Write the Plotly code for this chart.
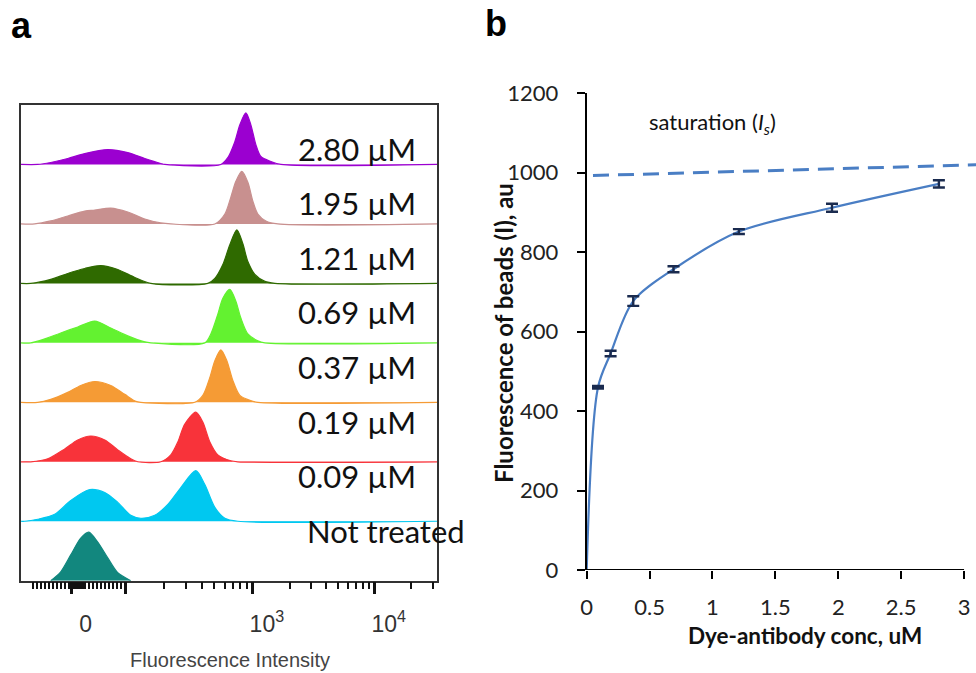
import math
import plotly.graph_objects as go

# ---------------- Panel a: flow cytometry histograms ----------------
# x in display channels (0..416 across the plot box), heights in counts (row height = 60)
row_labels = ["2.80 µM", "1.95 µM", "1.21 µM", "0.69 µM", "0.37 µM", "0.19 µM", "0.09 µM", "Not treated"]
row_colors = ["#9B00D0", "#C8908F", "#2F6A00", "#63F230", "#F59B35", "#F8333A", "#00C8F0", "#12877E"]

hist_x_280 = [17, 30, 47, 64, 87, 107, 124, 140, 144, 200, 207, 214, 219, 225, 230, 235, 240, 250, 260]
hist_y_280 = [0, 2, 6, 11, 15, 12, 6, 1, 0, 0, 7, 23, 40, 52, 40, 20, 8, 3, 0]
hist_x_195 = [14, 30, 47, 64, 74, 90, 107, 124, 140, 150, 194, 204, 210, 215, 221, 227, 232, 237, 245, 257]
hist_y_195 = [0, 3, 8, 13, 14, 16, 12, 5, 1, 0, 0, 10, 27, 43, 53, 42, 23, 10, 3, 0]
hist_x_121 = [10, 30, 47, 64, 80, 97, 114, 130, 187, 194, 202, 209, 216, 222, 227, 234, 244, 254]
hist_y_121 = [0, 4, 10, 15, 18, 14, 6, 0, 0, 5, 19, 39, 54, 40, 22, 9, 2, 0]
hist_x_069 = [10, 24, 40, 57, 74, 90, 107, 124, 130, 184, 190, 197, 202, 209, 215, 220, 227, 237, 244]
hist_y_069 = [0, 4, 10, 16, 22, 15, 7, 1, 0, 0, 9, 29, 45, 54, 42, 25, 9, 2, 0]
hist_x_037 = [17, 30, 47, 60, 74, 90, 104, 115, 120, 174, 182, 189, 194, 200, 206, 212, 219, 229, 237]
hist_y_037 = [0, 3, 10, 17, 21, 17, 8, 1, 0, 0, 7, 25, 42, 53, 42, 22, 7, 2, 0]
hist_x_019 = [10, 27, 44, 57, 70, 84, 97, 110, 117, 140, 150, 157, 164, 175, 182, 189, 197, 210, 217]
hist_y_019 = [0, 3, 13, 22, 26, 22, 12, 3, 0, 0, 7, 20, 38, 50, 40, 20, 7, 1, 0]
hist_x_009 = [4, 17, 34, 50, 69, 84, 97, 110, 120, 134, 147, 160, 175, 184, 194, 204, 217]
hist_y_009 = [0, 2, 7, 21, 32, 29, 19, 6, 3, 6, 17, 34, 51, 37, 14, 3, 0]
hist_x_nt = [30, 40, 50, 60, 68, 77, 87, 97, 110]
hist_y_nt = [0, 9, 26, 43, 49, 39, 23, 8, 0]

hist_x = [hist_x_280, hist_x_195, hist_x_121, hist_x_069, hist_x_037, hist_x_019, hist_x_009, hist_x_nt]
hist_y = [hist_y_280, hist_y_195, hist_y_121, hist_y_069, hist_y_037, hist_y_019, hist_y_009, hist_y_nt]

a_range = [0, 416]
row_h = 60
n_rows = len(row_labels)

# axis ticks for panel a (display channel positions)
a_major_vals = [12, 51, 104.3, 232, 353.7]
a_major_text = ["", "0", "", "10<sup>3</sup>", "10<sup>4</sup>"]

# ---------------- Panel b: binding curve ----------------
conc = [0.09, 0.19, 0.37, 0.69, 1.21, 1.95, 2.80]
fluor = [460, 545, 677, 757, 852, 912, 972]
fluor_err = [3, 7, 12, 7.5, 6, 10, 9]
sat_x = [0.05, 3.1]
sat_y = [993, 1020]
b_xticks = [0, 0.5, 1, 1.5, 2, 2.5, 3]
b_xticktext = ["0", "0.5", "1", "1.5", "2", "2.5", "3"]

W, H = 976, 673
fig = go.Figure()

for i in range(n_rows):
    base = (n_rows - 1 - i) * row_h
    xs = list(hist_x[i])
    ys = [base + v for v in hist_y[i]]
    if i < n_rows - 1:
        xs = [a_range[0]] + xs + [a_range[1]]
        ys = [base] + ys + [base]
    fig.add_trace(go.Scatter(
        x=xs, y=ys, mode="lines", fill="toself",
        fillcolor=row_colors[i],
        line=dict(color=row_colors[i], width=1.2, shape="spline", smoothing=0.8),
        xaxis="x", yaxis="y", showlegend=False, hoverinfo="skip"))

# row labels
for i, lab in enumerate(row_labels):
    fig.add_annotation(
        x=275 if i < n_rows - 1 else 284, y=436 - 55.1 * i, xref="x", yref="y",
        text=lab, showarrow=False, xanchor="left", yanchor="middle",
        font=dict(family="Lato", size=31, color="#111111"))

# minor ticks for panel a
minor_vals = []
v = 12.0
while v <= 104.3:
    minor_vals.append(round(v, 2))
    v += 4.0
v = 51.0
while v <= 63.0:
    minor_vals.append(round(v, 2))
    v += 1.2
for k in range(2, 10):
    minor_vals.append(104.3 + 127.7 * math.log10(k))
    minor_vals.append(232 + 121.7 * math.log10(k))
for k in range(2, 4):
    minor_vals.append(353.7 + 121.7 * math.log10(k))

# panel b curve
fig.add_trace(go.Scatter(
    x=[0] + conc, y=[0] + fluor, mode="lines",
    line=dict(color="#4A7EC4", width=2.2, shape="spline", smoothing=0.9),
    xaxis="x2", yaxis="y2", showlegend=False, hoverinfo="skip"))
fig.add_trace(go.Scatter(
    x=conc, y=fluor, mode="markers",
    marker=dict(size=1, color="rgba(0,0,0,0)"),
    error_y=dict(type="data", array=fluor_err, visible=True, color="#1A2B4F", thickness=2.4, width=6),
    xaxis="x2", yaxis="y2", showlegend=False, hoverinfo="skip"))
fig.add_trace(go.Scatter(
    x=sat_x, y=sat_y, mode="lines",
    line=dict(color="#4A7EC4", width=3, dash="16px,9px"),
    xaxis="x2", yaxis="y2", showlegend=False, hoverinfo="skip"))

# x axis line for panel b (ends at last tick)
fig.add_shape(type="line", xref="x2", yref="y2", x0=b_xticks[0], x1=b_xticks[-1], y0=0, y1=0,
              line=dict(color="black", width=2))

fig.add_annotation(x=0.477, y=1125, xref="x2", yref="y2", text="saturation (<i>I<sub>s</sub></i>)",
                   showarrow=False, xanchor="left", yanchor="middle",
                   font=dict(family="Lato", size=22, color="#111111"))

# axis titles & panel letters
fig.add_annotation(x=805 / W, y=1 - 635 / H, xref="paper", yref="paper",
                   text="<b>Dye-antibody conc, uM</b>", showarrow=False,
                   xanchor="center", yanchor="middle",
                   font=dict(family="Lato", size=22.5, color="#111111"))
fig.add_annotation(x=503 / W, y=1 - 333 / H, xref="paper", yref="paper",
                   text="<b>Fluorescence of beads (I), au</b>", showarrow=False, textangle=-90,
                   xanchor="center", yanchor="middle",
                   font=dict(family="Lato", size=24, color="#111111"))
fig.add_annotation(x=230 / W, y=1 - 660 / H, xref="paper", yref="paper",
                   text="Fluorescence Intensity", showarrow=False,
                   xanchor="center", yanchor="middle",
                   font=dict(family="Liberation Sans", size=20, color="#444444"))
fig.add_annotation(x=21 / W, y=1 - 26 / H, xref="paper", yref="paper",
                   text="<b>a</b>", showarrow=False, xanchor="center", yanchor="middle",
                   font=dict(family="Liberation Sans Narrow, Liberation Sans", size=36, color="black"))
fig.add_annotation(x=496 / W, y=1 - 24 / H, xref="paper", yref="paper",
                   text="<b>b</b>", showarrow=False, xanchor="center", yanchor="middle",
                   font=dict(family="Liberation Sans Narrow, Liberation Sans", size=36, color="black"))

fig.update_layout(
    width=W, height=H, autosize=False,
    margin=dict(l=0, r=0, t=0, b=0, pad=0),
    paper_bgcolor="white", plot_bgcolor="white",
    xaxis=dict(domain=[20.7 / W, 437 / W], range=a_range, showgrid=False, zeroline=False,
               automargin=False,
               showline=True, mirror=True, linecolor="#333333", linewidth=1.5,
               tickmode="array", tickvals=a_major_vals, ticktext=a_major_text,
               ticks="outside", ticklen=12, tickwidth=2.5, tickcolor="#111111",
               ticklabelshift=14, ticklabelstandoff=10,
               tickfont=dict(family="Liberation Sans", size=23, color="#333333"),
               minor=dict(tickmode="array", tickvals=minor_vals, ticks="outside",
                          ticklen=7, tickwidth=1.7, tickcolor="#111111", showgrid=False),
               anchor="y"),
    yaxis=dict(domain=[1 - 580.7 / H, 1 - 105 / H], range=[0, n_rows * row_h],
               automargin=False,
               showgrid=False, zeroline=False, showline=True, mirror=True,
               linecolor="#333333", linewidth=1.5, showticklabels=False, ticks="", anchor="x"),
    xaxis2=dict(domain=[586.7 / W, 1.0], range=[0, 3.095], showgrid=False, zeroline=False,
                automargin=False,
                showline=False, tickmode="array", tickvals=b_xticks, ticktext=b_xticktext,
                ticks="outside", ticklen=8, tickwidth=2, tickcolor="black",
                ticklabelstandoff=10,
                tickfont=dict(family="Lato", size=22, color="#222222"), anchor="y2"),
    yaxis2=dict(domain=[1 - 570 / H, 1 - 93.3 / H], range=[0, 1200], showgrid=False,
                automargin=False,
                zeroline=False, showline=True, linecolor="black", linewidth=2,
                tickmode="linear", tick0=0, dtick=200,
                ticks="outside", ticklen=8, tickwidth=2, tickcolor="black",
                ticklabelstandoff=14,
                tickfont=dict(family="Lato", size=22, color="#222222"), anchor="x2"),
)

fig.write_html("out.html", config={"displayModeBar": False},
               post_script="document.body.style.margin='0';")
